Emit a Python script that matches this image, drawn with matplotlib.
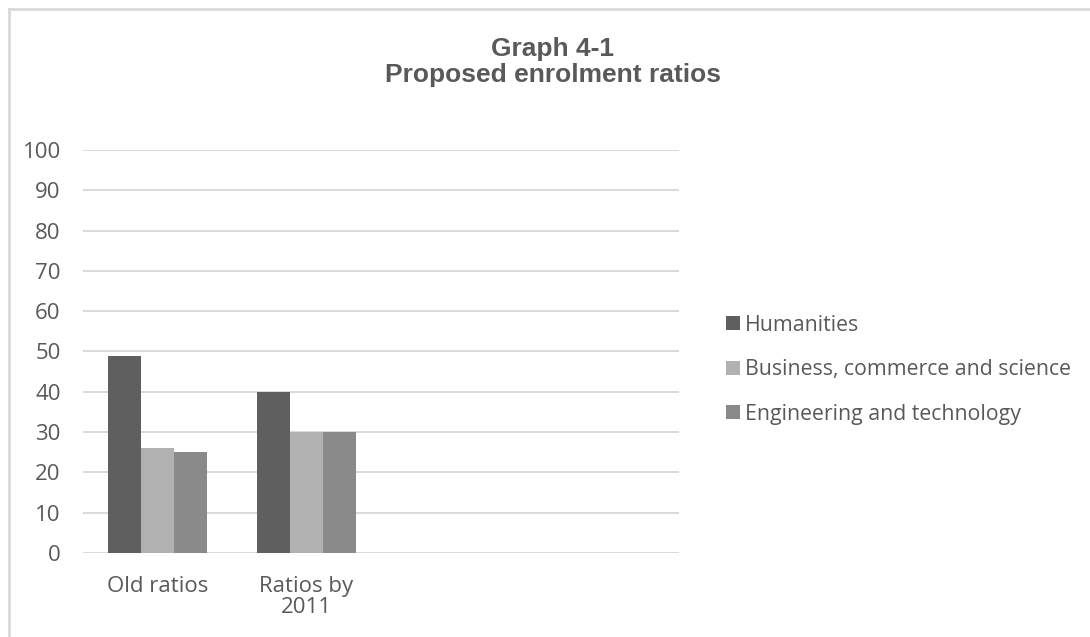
"""Graph 4-1: proposed enrolment ratios, grouped bars in grey."""
import numpy as np
import matplotlib
matplotlib.use("Agg")
import matplotlib.pyplot as plt
from matplotlib.lines import Line2D

categories = ["Old ratios", "Ratios by\n2011", "", ""]
series_names = ["Humanities", "Business, commerce and science", "Engineering and technology"]
humanities = [49, 40, np.nan, np.nan]
business = [26, 30, np.nan, np.nan]
engineering = [25, 30, np.nan, np.nan]
y_ticks = [0, 10, 20, 30, 40, 50, 60, 70, 80, 90, 100]

colors = ["#5f5f5f", "#b1b1b1", "#8a8a8a"]
text_color = "#595959"
grid_color = "#d9d9d9"

fig = plt.figure(figsize=(10.9, 6.37), dpi=100)
ax = fig.add_axes([0.0761, 0.1319, 0.5468, 0.6326])

x = np.arange(len(categories))
width = 0.222
for i, (vals, name, c) in enumerate(zip([humanities, business, engineering], series_names, colors)):
    ax.bar(x + (i - 1) * width, vals, width, color=c, label=name, zorder=3)

ax.set_xlim(-0.5, len(categories) - 0.5)
ax.set_ylim(0, 100)
ax.set_yticks(y_ticks)
ax.set_xticks(x)
ax.set_xticklabels(categories, linespacing=1.0)
ax.tick_params(axis="both", length=0, colors=text_color, labelsize=16)
ax.tick_params(axis="x", pad=16.5)
ax.tick_params(axis="y", pad=16)
for lbl in ax.get_xticklabels() + ax.get_yticklabels():
    lbl.set_fontfamily("Open Sans")
ax.grid(axis="y", color=grid_color, linewidth=1.4, zorder=0)
for s in ax.spines.values():
    s.set_visible(False)

fig.text(0.507, 0.903, "Graph 4-1\nProposed enrolment ratios", ha="center", va="center",
         fontsize=19, fontweight="bold", color=text_color, family="Liberation Sans",
         linespacing=1.08)

leg = ax.legend(loc="center left", bbox_to_anchor=(1.047, 0.455), frameon=False,
                prop={"family": "Open Sans", "size": 15.3}, handlelength=0.65,
                handleheight=0.65, handletextpad=0.25, labelspacing=1.1)
for t in leg.get_texts():
    t.set_color(text_color)

# light chart-area border along the top and left edge
fig.add_artist(Line2D([9 / 1090, 1.0], [1 - 9 / 637, 1 - 9 / 637], color=grid_color, linewidth=2,
                      transform=fig.transFigure))
fig.add_artist(Line2D([9 / 1090, 9 / 1090], [0, 1 - 9 / 637], color=grid_color, linewidth=2,
                      transform=fig.transFigure))

fig.savefig("out.png", dpi=100)
